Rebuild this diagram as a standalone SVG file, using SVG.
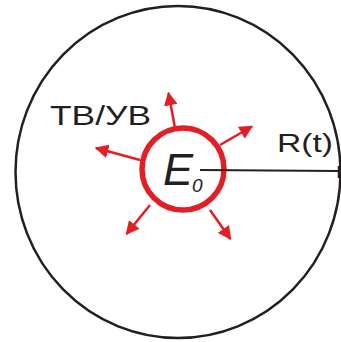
<svg xmlns="http://www.w3.org/2000/svg" width="341" height="342" viewBox="0 0 341 342">
<defs>
<style>
.txt{font-family:"Liberation Sans",Arial,sans-serif;fill:#231f20}
.ray{stroke:#e31e24;stroke-width:2.5;fill:none;marker-end:url(#ah)}
</style>
<marker id="ah" viewBox="0 0 10 10" refX="9" refY="5" markerWidth="5.5" markerHeight="5.5" orient="auto" markerUnits="strokeWidth">
<path d="M0,0 L10,5 L0,10 Z" fill="#e31e24"/>
</marker>
</defs>
<rect width="341" height="342" fill="#ffffff"/>
<g id="outer">
<ellipse cx="178" cy="172" rx="162.5" ry="166" fill="none" stroke="#231f20" stroke-width="2.5"/>
</g>
<g id="source">
<circle cx="183" cy="169" r="41" fill="none" stroke="#e31e24" stroke-width="5.5"/>
<text class="txt" x="163" y="185" font-size="45" font-style="italic">E</text>
<text class="txt" x="192" y="191.5" font-size="19" font-style="italic">0</text>
</g>
<g id="connectors">
<line class="ray" x1="175" y1="128" x2="168.5" y2="93"/>
<line class="ray" x1="220" y1="145" x2="252" y2="126.5"/>
<line class="ray" x1="140" y1="160" x2="96" y2="148"/>
<line class="ray" x1="150" y1="205" x2="126.5" y2="234"/>
<line class="ray" x1="210" y1="210" x2="230.5" y2="239"/>
<line x1="200" y1="170" x2="339" y2="171" stroke="#231f20" stroke-width="2"/>
<line x1="339" y1="166" x2="339" y2="178" stroke="#231f20" stroke-width="2.5"/>
</g>
<g id="labels">
<text class="txt" x="50" y="125" font-size="28" textLength="101" lengthAdjust="spacingAndGlyphs">ТВ/УВ</text>
<text class="txt" x="277" y="152" font-size="26" textLength="56" lengthAdjust="spacingAndGlyphs">R(t)</text>
</g>
</svg>
